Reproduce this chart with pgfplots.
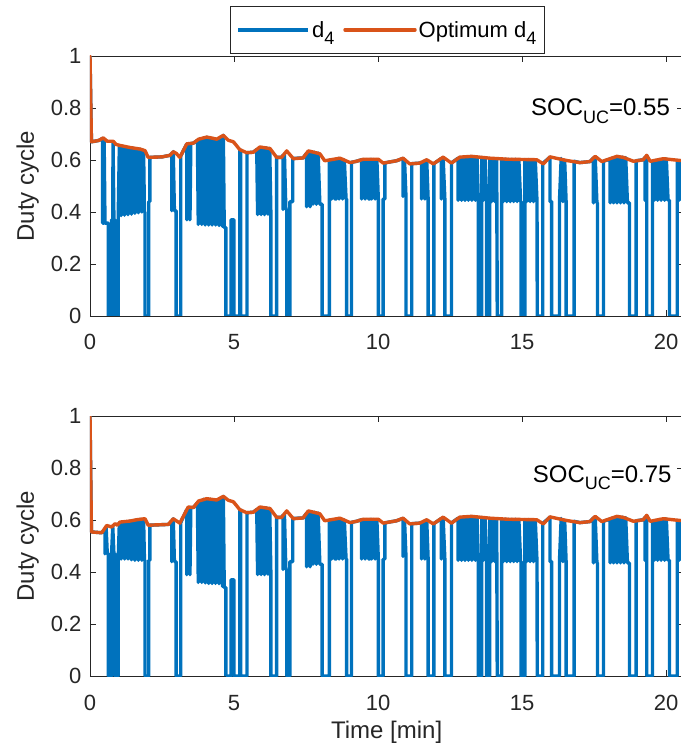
\documentclass[border=0pt]{standalone}
\usepackage{pgfplots}
\pgfplotsset{compat=1.18}
\usepackage{pgfplotstable}
\usepackage{fontspec}
\setmainfont{Liberation Sans}

\definecolor{mblue}{RGB}{0,114,189}
\definecolor{morange}{RGB}{217,83,25}
\definecolor{axgray}{RGB}{38,38,38}

% optimum d4, first seconds differ between the two cases
\pgfplotstableread{
t d
0 1.0
0.05 0.67
0.3 0.675
0.46 0.685
0.6 0.672
0.81 0.672
0.9 0.66
1.04 0.656
1.39 0.648
1.74 0.642
1.91 0.636
2.02 0.61
2.5 0.612
2.78 0.618
2.89 0.632
3.0 0.625
3.12 0.61
3.36 0.662
3.59 0.665
3.77 0.68
4.05 0.688
4.2 0.685
4.4 0.68
4.63 0.695
4.8 0.676
4.98 0.67
}\opttopA

\pgfplotstableread{
t d
0 1.0
0.05 0.554
0.41 0.551
0.58 0.579
0.75 0.573
0.87 0.586
0.95 0.58
1.04 0.592
1.39 0.596
1.62 0.601
1.91 0.605
2.02 0.58
2.72 0.583
2.89 0.605
3.12 0.588
3.41 0.65
3.59 0.648
3.77 0.673
4.05 0.682
4.4 0.677
4.63 0.691
4.8 0.676
4.98 0.67
}\optbotA

\pgfplotstableread{
t d
4.98 0.67
5.2 0.64
5.44 0.628
5.67 0.63
5.9 0.65
6.25 0.644
6.48 0.61
6.65 0.61
6.83 0.635
7.06 0.605
7.4 0.608
7.58 0.635
7.98 0.624
8.15 0.597
8.68 0.607
9.03 0.59
9.25 0.595
9.49 0.603
10.01 0.603
10.18 0.588
10.64 0.597
10.87 0.607
11.1 0.585
11.45 0.588
11.69 0.601
11.92 0.585
12.26 0.611
12.55 0.588
12.84 0.611
13.25 0.614
13.88 0.607
14.5 0.603
15.51 0.601
15.74 0.585
15.97 0.612
16.55 0.598
17.01 0.59
17.36 0.594
17.54 0.614
17.77 0.594
18.29 0.614
18.52 0.61
18.87 0.595
19.21 0.601
19.33 0.618
19.45 0.595
19.91 0.605
20.49 0.598
20.6 0.598
}\optB

% d4
\pgfplotstableread{
t d
0 1.0
0.05 0.67
0.3 0.675
0.44 0.683
0.44 0.357
0.48 0.357
0.49 0.682
0.52 0.357
0.64 0.357
0.64 0
0.75 0
0.75 0.37
0.79 0.37
0.80 0.668
0.83 0.37
0.87 0.37
0.87 0
0.98 0
0.98 0.385
1.02 0.655
1.08 0.386
1.14 0.653
1.20 0.388
1.26 0.65
1.32 0.39
1.38 0.648
1.44 0.392
1.50 0.646
1.56 0.395
1.62 0.644
1.68 0.397
1.74 0.642
1.80 0.40
1.86 0.637
1.89 0.40
1.91 0.40
1.91 0
2.04 0
2.04 0.44
2.08 0.44
2.08 0.61
2.5 0.612
2.78 0.618
2.84 0.625
2.84 0.405
2.89 0.632
2.93 0.405
2.99 0.405
2.99 0
3.15 0
3.15 0.615
3.36 0.662
3.36 0.37
3.42 0.663
3.47 0.37
3.50 0.663
3.59 0.665
3.73 0.675
3.76 0.352
3.82 0.682
3.88 0.352
3.94 0.685
4.00 0.35
4.06 0.688
4.12 0.35
4.18 0.686
4.24 0.35
4.30 0.683
4.36 0.35
4.42 0.681
4.48 0.348
4.54 0.688
4.60 0.345
4.63 0.695
4.66 0.34
4.72 0.34
4.72 0
}\dtopA

\pgfplotstableread{
t d
0 1.0
0.05 0.554
0.41 0.551
0.52 0.565
0.52 0.47
0.56 0.57
0.60 0.47
0.64 0.47
0.64 0
0.75 0
0.75 0.47
0.79 0.575
0.83 0.47
0.87 0.47
0.87 0
0.98 0
0.98 0.45
1.02 0.59
1.08 0.45
1.14 0.592
1.20 0.45
1.26 0.594
1.32 0.45
1.38 0.596
1.44 0.447
1.50 0.598
1.56 0.445
1.62 0.601
1.68 0.445
1.74 0.603
1.80 0.445
1.86 0.604
1.89 0.445
1.91 0.445
1.91 0
2.04 0
2.04 0.445
2.08 0.445
2.08 0.58
2.72 0.583
2.84 0.595
2.84 0.44
2.89 0.605
2.93 0.44
2.99 0.44
2.99 0
3.15 0
3.15 0.59
3.36 0.64
3.36 0.39
3.42 0.648
3.47 0.39
3.50 0.648
3.59 0.648
3.73 0.665
3.76 0.36
3.82 0.675
3.88 0.36
3.94 0.68
4.00 0.358
4.06 0.682
4.12 0.356
4.18 0.68
4.24 0.356
4.30 0.678
4.36 0.356
4.42 0.677
4.48 0.355
4.54 0.685
4.60 0.345
4.63 0.691
4.66 0.34
4.72 0.34
4.72 0
}\dbotA

\pgfplotstableread{
t d
4.72 0
4.90 0
4.90 0.37
5.00 0.37
5.00 0
5.20 0
5.20 0.64
5.23 0.638
5.23 0
5.45 0
5.45 0.628
5.67 0.63
5.79 0.64
5.82 0.39
5.88 0.646
5.94 0.39
6.00 0.648
6.06 0.39
6.12 0.647
6.18 0.392
6.24 0.645
6.28 0.392
6.28 0
6.48 0
6.48 0.61
6.65 0.61
6.70 0.618
6.70 0.41
6.75 0.624
6.80 0.41
6.83 0.41
6.83 0
6.94 0
6.94 0.44
7.04 0.44
7.04 0.606
7.4 0.608
7.52 0.626
7.52 0.42
7.58 0.633
7.64 0.42
7.70 0.632
7.74 0.43
7.80 0.63
7.86 0.43
7.92 0.627
7.98 0.43
8.06 0.43
8.06 0
8.31 0
8.31 0.599
8.39 0.6
8.39 0.45
8.45 0.601
8.50 0.45
8.56 0.45
8.56 0.603
8.65 0.606
8.65 0.45
8.71 0.605
8.77 0.45
8.83 0.6
8.89 0.45
8.91 0.45
8.91 0
9.08 0
9.08 0.591
9.25 0.595
9.43 0.601
9.43 0.45
9.49 0.602
9.55 0.45
9.61 0.602
9.67 0.45
9.72 0.45
9.72 0.602
9.78 0.602
9.78 0.45
9.84 0.602
9.90 0.45
9.96 0.602
10.01 0.45
10.01 0
10.18 0
10.18 0.45
10.24 0.45
10.24 0.589
10.64 0.597
10.87 0.606
10.87 0.46
10.92 0.6
10.97 0.46
10.97 0
11.17 0
11.17 0.586
11.45 0.588
11.51 0.59
11.51 0.45
11.57 0.595
11.63 0.45
11.69 0.6
11.74 0.45
11.74 0
11.94 0
11.94 0.586
12.2 0.606
12.2 0.45
12.26 0.61
12.32 0.45
12.32 0
12.55 0
12.55 0.589
12.78 0.607
12.78 0.445
12.84 0.61
12.90 0.445
12.96 0.611
13.02 0.445
13.08 0.612
13.14 0.445
13.20 0.613
13.26 0.445
13.32 0.613
13.38 0.445
13.44 0.612
13.48 0.445
13.48 0
13.60 0
13.60 0.61
13.66 0.445
13.72 0.609
13.77 0.445
13.77 0
13.88 0
13.88 0.606
13.94 0.44
14.00 0.605
14.06 0.44
14.12 0.605
14.14 0
14.29 0
14.29 0.604
14.35 0.44
14.41 0.604
14.47 0.44
14.53 0.603
14.59 0.44
14.65 0.603
14.71 0.44
14.77 0.603
14.83 0.44
14.89 0.602
14.95 0.44
14.97 0.44
14.97 0
15.10 0
15.10 0.602
15.16 0.44
15.22 0.602
15.28 0.44
15.34 0.601
15.40 0.44
15.46 0.6
15.52 0.44
15.53 0
15.72 0
15.72 0.587
15.97 0.611
15.97 0.44
16.03 0.44
16.03 0
16.30 0
16.30 0.44
16.36 0.606
16.42 0.44
16.48 0.599
16.53 0.44
16.53 0
16.81 0
16.81 0.595
17.01 0.59
17.36 0.594
17.48 0.608
17.48 0.435
17.54 0.613
17.60 0.435
17.62 0.435
17.62 0
17.83 0
17.83 0.595
18.06 0.604
18.06 0.435
18.12 0.607
18.18 0.435
18.24 0.611
18.30 0.435
18.36 0.613
18.42 0.435
18.48 0.611
18.54 0.435
18.60 0.609
18.66 0.435
18.73 0.435
18.73 0
18.96 0
18.96 0.597
19.21 0.601
19.27 0.61
19.27 0.445
19.33 0.617
19.33 0
19.53 0
19.53 0.596
19.59 0.445
19.65 0.599
19.71 0.445
19.77 0.602
19.83 0.445
19.89 0.604
19.95 0.445
20.01 0.604
20.07 0.445
20.12 0.445
20.12 0
20.39 0
20.39 0.599
20.45 0.445
20.51 0.598
20.57 0.445
20.63 0.598
}\dB

\newcommand{\sub}[1]{\raisebox{-0.32em}{\fontsize{18}{18}\selectfont #1}}

\pgfplotsset{
  dutyaxis/.style={
    width=593.3pt, height=260pt, scale only axis,
    xmin=0, xmax=20.6, ymin=0, ymax=1,
    xtick={0,5,10,15,20},
    ytick={0,0.2,0.4,0.6,0.8,1},
    tick align=inside,
    major tick length=6pt,
    axis line style={line width=0.9pt, color=axgray},
    tick style={line width=0.9pt, color=axgray},
    /pgf/number format/assume math mode=true,
    tick label style={font=\fontsize{22}{26}\selectfont, color=axgray},
    xticklabel style={anchor=base, yshift=-34pt},
    yticklabel style={xshift=-5pt},
    label style={font=\fontsize{24}{28}\selectfont, color=axgray},
    ylabel={Duty cycle},
    ylabel style={at={(axis description cs:-0.105,0.5)}, anchor=center},
  },
  blueline/.style={color=mblue, line width=3.4pt, line join=round},
  orangeline/.style={color=morange, line width=3.4pt, line join=round, line cap=round},
}

\begin{document}
\begin{tikzpicture}
\begin{axis}[
  dutyaxis,
  legend columns=2,
  legend style={at={(0.5014,1.0077)}, anchor=south,
    draw=axgray, line width=0.9pt,
    font=\fontsize{22}{26}\selectfont,
    inner xsep=6pt, inner ysep=13pt,
    /tikz/every even column/.append style={column sep=7pt}},
  legend image code/.code={\draw[#1] (0pt,0pt) -- (70pt,0pt);},
]
\addplot[blueline] table[x=t,y=d] {\dtopA};
\addlegendentry{d\sub{4}}
\addplot[blueline, forget plot] table[x=t,y=d] {\dB};
\addplot[orangeline] table[x=t,y=d] {\opttopA};
\addlegendentry{Optimum d\sub{4}}
\addplot[orangeline, forget plot] table[x=t,y=d] {\optB};
\node[anchor=base east, font=\fontsize{24}{28}\selectfont, inner sep=0pt]
  at (axis cs:20.14,0.77) {SOC\sub{UC}=0.55};
\end{axis}

\begin{axis}[
  dutyaxis,
  at={(0pt,-360pt)},
  xlabel={Time [min]},
  xlabel style={at={(axis description cs:0.5,0)}, anchor=base, yshift=-62pt},
]
\addplot[blueline] table[x=t,y=d] {\dbotA};
\addplot[blueline] table[x=t,y=d] {\dB};
\addplot[orangeline] table[x=t,y=d] {\optbotA};
\addplot[orangeline] table[x=t,y=d] {\optB};
\node[anchor=base east, font=\fontsize{24}{28}\selectfont, inner sep=0pt]
  at (axis cs:20.2,0.746) {SOC\sub{UC}=0.75};
\end{axis}

\pgfresetboundingbox
\path[use as bounding box] (-90pt,-435pt) rectangle (590pt,316pt);
\end{tikzpicture}
\end{document}
